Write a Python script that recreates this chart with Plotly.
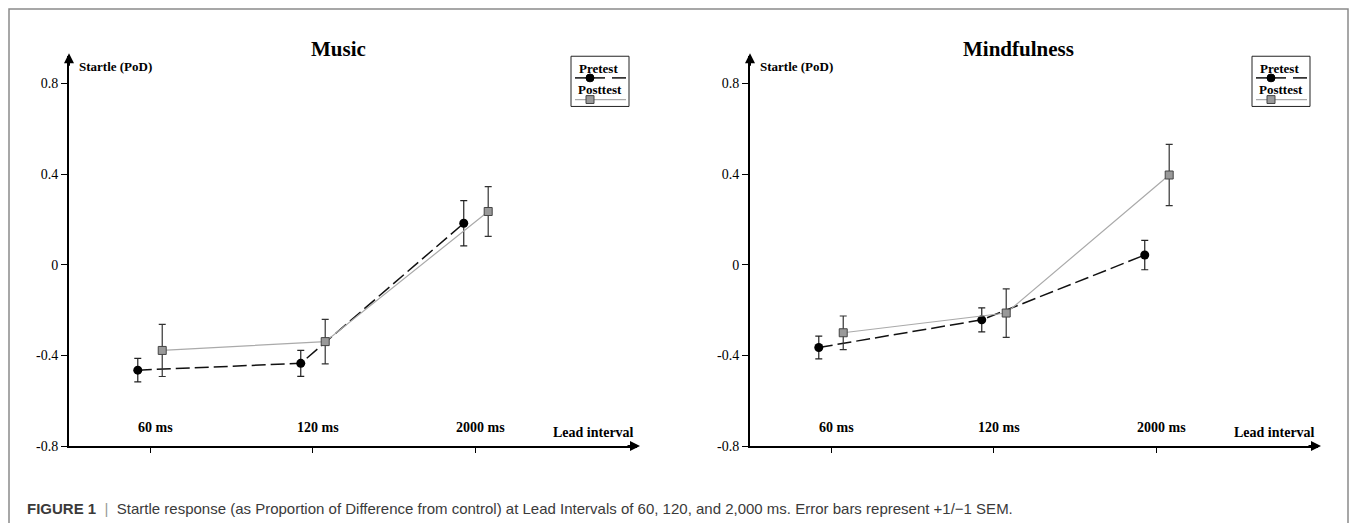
import plotly.graph_objects as go

# ---------------- data ----------------
lead_intervals = ["60 ms", "120 ms", "2000 ms"]
panel_titles = ["Music", "Mindfulness"]
series_names = ["Pretest", "Posttest"]

music_pre = [-0.465, -0.435, 0.183]
music_pre_sem = [0.052, 0.057, 0.100]
music_post = [-0.378, -0.339, 0.235]
music_post_sem = [0.115, 0.098, 0.110]

mind_pre = [-0.365, -0.243, 0.043]
mind_pre_sem = [0.050, 0.053, 0.065]
mind_post = [-0.300, -0.213, 0.396]
mind_post_sem = [0.074, 0.107, 0.135]

y_ticks = [-0.8, -0.4, 0, 0.4, 0.8]
y_tick_labels = ["-0.8", "-0.4", "0", "0.4", "0.8"]

caption_label = "FIGURE 1"
caption_text = ("Startle response (as Proportion of Difference from control) at Lead Intervals "
                "of 60, 120, and 2,000 ms. Error bars represent +1/\u22121 SEM.")

# ---------------- layout helpers ----------------
# the page body keeps an 8px margin on every side; size the figure so the page fits the window
M = 8
W, H = 1357 - 2 * M, 531 - 2 * M
def px(x):
    return (x - M) / W
def py(y):
    return 1 - (y - M) / H

SERIF = "Liberation Serif, Times New Roman, serif"
SANS = "Liberation Sans, Arial, sans-serif"

panels = [
    (music_pre, music_pre_sem, music_post, music_post_sem),
    (mind_pre, mind_pre_sem, mind_post, mind_post_sem),
]
offsets = [0, 681]
x_off = 0.075
pos = list(range(1, len(lead_intervals) + 1))

fig = go.Figure()
shapes = []
annotations = []

def note(text, x, y, size, xanchor="center", family=SERIF, color="#000"):
    return dict(text=text, x=px(x), y=py(y), xref="paper", yref="paper",
                xanchor=xanchor, yanchor="middle", showarrow=False,
                font=dict(family=family, size=size, color=color))

for i, (pre, pre_sem, post, post_sem) in enumerate(panels):
    xa = "x" if i == 0 else "x2"
    ya = "y" if i == 0 else "y2"
    off = offsets[i]

    fig.add_trace(go.Scatter(
        x=[p - x_off for p in pos], y=pre, mode="lines+markers", name=series_names[0],
        xaxis=xa, yaxis=ya, showlegend=False, cliponaxis=False,
        line=dict(color="#111111", width=1.5, dash="14px,5px"),
        marker=dict(symbol="circle", size=9, color="#000000"),
        error_y=dict(type="data", array=pre_sem, visible=True, color="#222222",
                     thickness=1.2, width=3.5),
    ))
    fig.add_trace(go.Scatter(
        x=[p + x_off for p in pos], y=post, mode="lines+markers", name=series_names[1],
        xaxis=xa, yaxis=ya, showlegend=False, cliponaxis=False,
        line=dict(color="#aaaaaa", width=1.2),
        marker=dict(symbol="square", size=8, color="#999999",
                    line=dict(color="#444444", width=1)),
        error_y=dict(type="data", array=post_sem, visible=True, color="#333333",
                     thickness=1.2, width=3.5),
    ))

    # category labels sit above the x axis, at the tick positions
    for p, lab in zip(pos, lead_intervals):
        annotations.append(dict(text="<b>%s</b>" % lab, x=p, xref=xa, y=py(434), yref="paper",
                                xanchor="center", yanchor="middle", xshift=5, showarrow=False,
                                font=dict(family=SERIF, size=14, color="#000")))

    annotations.append(note("<b>%s</b>" % panel_titles[i], 338 + off, 50, 21))
    annotations.append(note("<b>Startle (PoD)</b>", 77 + off, 67, 13, xanchor="left"))
    annotations.append(note("<b>Lead interval</b>", 636 + off, 439, 14, xanchor="right"))

    # axis arrowheads
    annotations.append(dict(text="", x=px(640 + off), y=py(453), xref="paper", yref="paper",
                            ax=-14, ay=0, showarrow=True, arrowhead=2, arrowsize=1,
                            arrowwidth=2, arrowcolor="#000"))
    annotations.append(dict(text="", x=px(69 + off), y=py(54), xref="paper", yref="paper",
                            ax=0, ay=14, showarrow=True, arrowhead=2, arrowsize=1,
                            arrowwidth=2, arrowcolor="#000"))

    # legend box
    lx0, lx1, ly0, ly1 = 571 + off, 629 + off, 57, 108
    shapes.append(dict(type="rect", xref="paper", yref="paper",
                       x0=px(lx0), x1=px(lx1), y0=py(ly1), y1=py(ly0),
                       line=dict(color="#222", width=1), fillcolor="white", layer="above"))
    annotations.append(note("<b>%s</b>" % series_names[0], 598 + off, 69, 13))
    annotations.append(note("<b>%s</b>" % series_names[1], 600 + off, 91, 13))
    for a, b in [(575, 605), (612, 626)]:
        shapes.append(dict(type="line", xref="paper", yref="paper",
                           x0=px(a + off), x1=px(b + off), y0=py(79), y1=py(79),
                           line=dict(color="#111", width=1.5), layer="above"))
    shapes.append(dict(type="circle", xref="paper", yref="paper",
                       x0=px(586 + off), x1=px(594 + off), y0=py(83), y1=py(75),
                       line=dict(color="#000", width=1), fillcolor="#000", layer="above"))
    shapes.append(dict(type="line", xref="paper", yref="paper",
                       x0=px(575 + off), x1=px(626 + off), y0=py(101), y1=py(101),
                       line=dict(color="#aaaaaa", width=1.2), layer="above"))
    shapes.append(dict(type="rect", xref="paper", yref="paper",
                       x0=px(586 + off), x1=px(594 + off), y0=py(105), y1=py(97),
                       line=dict(color="#444", width=1), fillcolor="#999999", layer="above"))

# outer frame
shapes.append(dict(type="rect", xref="paper", yref="paper",
                   x0=px(9), x1=px(1348), y0=-0.05, y1=py(9),
                   line=dict(color="#8a8a8a", width=1.5), layer="below"))

# caption
annotations.append(note(
    "<b>%s</b>\u00a0\u00a0<span style='color:#999'>|</span>\u00a0\u00a0%s" % (caption_label, caption_text),
    25, 516, 15, xanchor="left", family=SANS, color="#3a3a3a"))

xaxis_common = dict(
    range=[0.503, 3.988], showgrid=False, zeroline=False, showline=True,
    linecolor="#000", linewidth=2, ticks="outside", ticklen=5, tickwidth=1, tickcolor="#000",
    tickvals=pos, showticklabels=False, fixedrange=True,
)
yaxis_common = dict(
    range=[-0.8, 0.92], showgrid=False, zeroline=False, showline=True,
    linecolor="#000", linewidth=2, ticks="outside", ticklen=6, tickwidth=1, tickcolor="#000",
    tickvals=y_ticks, ticktext=y_tick_labels,
    tickfont=dict(family=SERIF, size=14, color="#000"), fixedrange=True,
)

fig.update_layout(
    width=W, height=H,
    margin=dict(l=0, r=0, t=0, b=0),
    paper_bgcolor="white", plot_bgcolor="white",
    showlegend=False,
    xaxis=dict(domain=[px(69), px(637)], anchor="y", **xaxis_common),
    yaxis=dict(domain=[py(453), py(57)], anchor="x", **yaxis_common),
    xaxis2=dict(domain=[px(750), px(1318)], anchor="y2", **xaxis_common),
    yaxis2=dict(domain=[py(453), py(57)], anchor="x2", **yaxis_common),
    shapes=shapes,
    annotations=annotations,
)

fig.write_html("out.html", config={"displayModeBar": False})
